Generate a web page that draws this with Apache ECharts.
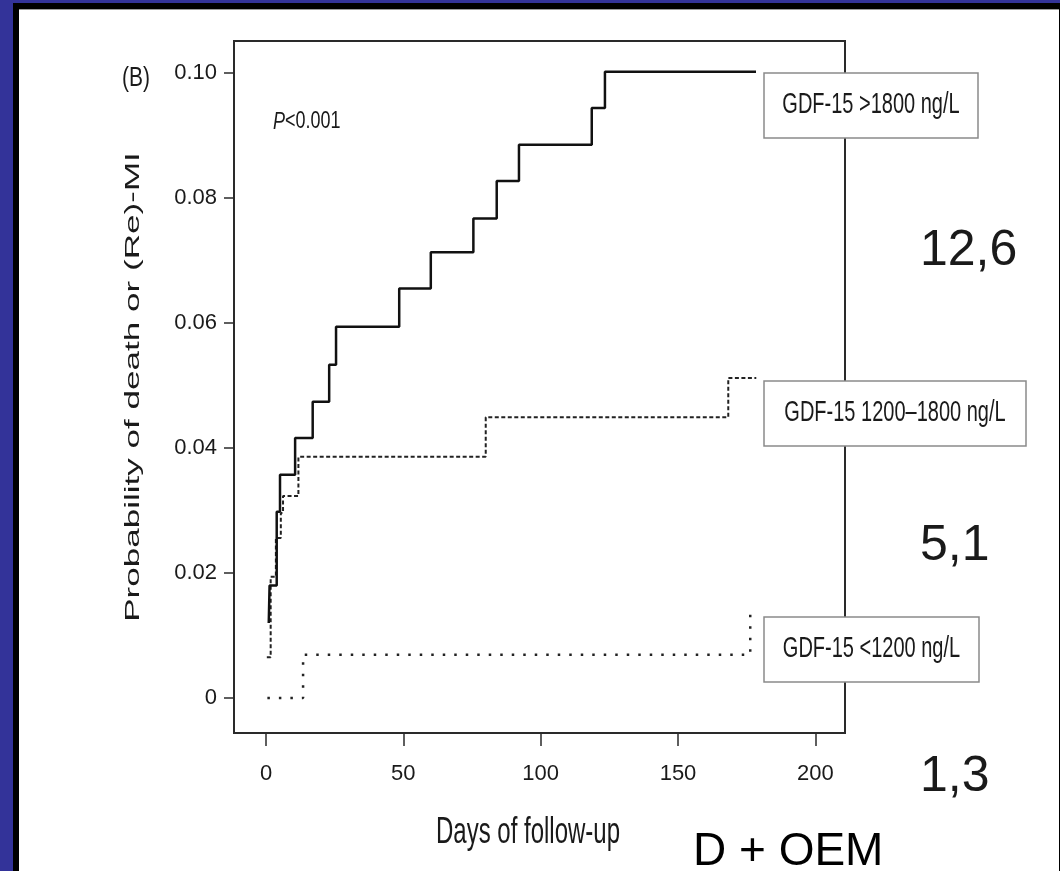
<!DOCTYPE html>
<html>
<head>
<meta charset="utf-8">
<script src="https://cdn.jsdelivr.net/npm/echarts@6/dist/echarts.min.js"></script>
<style>
  html, body { margin: 0; padding: 0; background: #fff; }
  #frame { position: absolute; left: 0; top: 0; width: 1060px; height: 871px; background: #333399; overflow: hidden; }
  #black { position: absolute; left: 13px; top: 3px; width: 1047px; height: 868px; background: #000; }
  #white { position: absolute; left: 19px; top: 9px; width: 1040px; height: 862px; background: #fff; border-top: 1px solid #9a9a9a; box-sizing: border-box; }
  #chart { position: absolute; left: 0; top: 0; width: 1060px; height: 871px; }
</style>
</head>
<body>
<div id="frame"><div id="black"></div><div id="white"></div></div>
<div id="chart"></div>
<script>
// ---- data ----
const xTicks = [0, 50, 100, 150, 200];
const yTicks = [0, 0.02, 0.04, 0.06, 0.08, 0.10];

const seriesNames = ['GDF-15 >1800 ng/L', 'GDF-15 1200\u20131800 ng/L', 'GDF-15 <1200 ng/L'];

const highDays = [1.0, 1.3, 3.9, 5.1, 10.6, 17, 23, 25.5, 48.5, 60, 75.5, 84, 92.1, 118.6, 123.4, 178.4];
const highProb = [0.012, 0.018, 0.0298, 0.0357, 0.0416, 0.0474, 0.0533, 0.0594, 0.0655, 0.0713, 0.0767, 0.0827, 0.0885, 0.0944, 0.1002, 0.1002];

const midDays = [0.3, 1.7, 3.6, 5.4, 6.2, 11.8, 80, 168.3, 178.5];
const midProb = [0.0065, 0.0194, 0.0256, 0.0296, 0.0323, 0.0386, 0.0449, 0.0512, 0.0512];

const lowDays = [0.5, 13.5, 176.3];
const lowProb = [0, 0.0069, 0.0133];

const sideValues = ['12,6', '5,1', '1,3'];
const pText = 'P<0.001';
const panelLabel = '(B)';
const xTitle = 'Days of follow-up';
const yTitle = 'Probability of death or (Re)-MI';
const footText = 'D + OEM';

function pairs(xs, ys) { return xs.map((x, i) => [x, ys[i]]); }

const chart = echarts.init(document.getElementById('chart'), null, { renderer: 'canvas' });

const tickFont = { fontFamily: '"Liberation Sans", Arial, sans-serif', fontSize: 22, color: '#1a1a1a' };
const SANS = '"Liberation Sans", Arial, sans-serif';

function txt(x, y, text, size, align, vAlign, extra) {
  return Object.assign({ type: 'text', z: 50, x: x, y: y,
    style: { text: text, fontFamily: SANS, fontSize: size, fill: '#1a1a1a',
             align: align, verticalAlign: vAlign, textAlign: align, textVerticalAlign: vAlign } }, extra || {});
}

function legendBox(x, y, w, h, text) {
  return [
    { type: 'rect', z: 100, shape: { x: x, y: y, width: w, height: h },
      style: { fill: '#fff', stroke: '#8a8a8a', lineWidth: 1.5 } },
    Object.assign(txt(x + w / 2, y + h / 2, text, 20, 'center', 'middle', { scaleY: 1.45 }), { z: 101 })
  ];
}

const pLabel = txt(273, 122, '{i|P}' + pText.slice(1), 18, 'left', 'middle', { scaleY: 1.3 });
pLabel.style.rich = { i: { fontStyle: 'italic', fontSize: 18, fontFamily: SANS, fill: '#1a1a1a' } };

const footLabel = txt(693, 852, footText, 46, 'left', 'middle');
footLabel.style.fill = '#000';

const graphics = [].concat(
  legendBox(764, 73, 214, 65, seriesNames[0]),
  legendBox(764, 381, 262, 65, seriesNames[1]),
  legendBox(764, 617, 215, 65, seriesNames[2]),
  [
    txt(133, 387, yTitle, 21, 'center', 'middle', { rotation: Math.PI / 2, scaleX: 1.67 }),
    txt(528, 833, xTitle, 24, 'center', 'middle', { scaleY: 1.5 }),
    txt(122, 78, panelLabel, 21, 'left', 'middle', { scaleY: 1.3 }),
    pLabel,
    txt(920, 251, sideValues[0], 50, 'left', 'middle'),
    txt(920, 546, sideValues[1], 50, 'left', 'middle'),
    txt(920, 777, sideValues[2], 50, 'left', 'middle'),
    footLabel
  ]
);

const option = {
  animation: false,
  backgroundColor: 'transparent',
  grid: { left: 234, top: 41, width: 611, height: 692, show: true, borderColor: '#2a2a2a', borderWidth: 2, backgroundColor: 'transparent' },
  xAxis: {
    type: 'value', min: -11.65, max: 210.8,
    axisLine: { show: false, onZero: false },
    splitLine: { show: false },
    axisTick: { show: true, length: 13, lineStyle: { color: '#2a2a2a', width: 1.5 }, customValues: xTicks },
    axisLabel: Object.assign({ margin: 30, customValues: xTicks, formatter: v => String(v) }, tickFont)
  },
  yAxis: {
    type: 'value', min: -0.0056, max: 0.1051,
    axisLine: { show: false, onZero: false },
    splitLine: { show: false },
    axisTick: { show: true, length: 10, lineStyle: { color: '#2a2a2a', width: 1.5 }, customValues: yTicks },
    axisLabel: Object.assign({ margin: 17, customValues: yTicks, formatter: v => (v === 0 ? '0' : v.toFixed(2)) }, tickFont)
  },
  series: [
    { name: seriesNames[0], type: 'line', step: 'end', symbol: 'none', data: pairs(highDays, highProb),
      lineStyle: { color: '#111', width: 2.5, type: 'solid' }, z: 5 },
    { name: seriesNames[1], type: 'line', step: 'end', symbol: 'none', data: pairs(midDays, midProb),
      lineStyle: { color: '#222', width: 2, type: [4, 2.5] }, z: 4 },
    { name: seriesNames[2], type: 'line', step: 'end', symbol: 'none', data: pairs(lowDays, lowProb),
      lineStyle: { color: '#222', width: 2.5, type: [2.5, 9] }, z: 3 }
  ],
  graphic: graphics
};

chart.setOption(option);
</script>
</body>
</html>
